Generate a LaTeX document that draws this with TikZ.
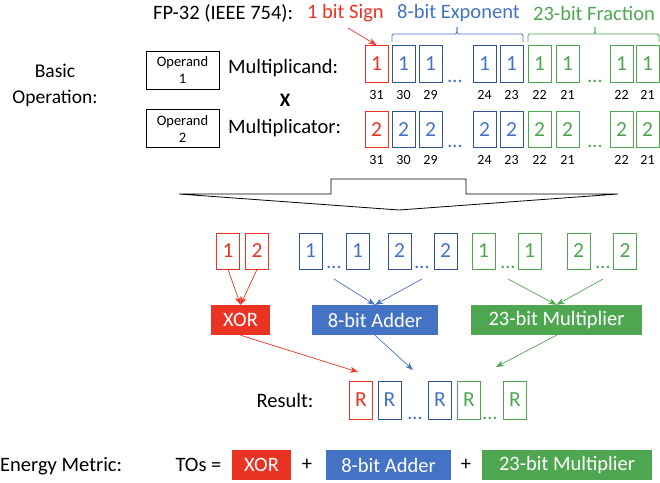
\documentclass[tikz,border=0pt]{standalone}
\usepackage{fontspec}
\setmainfont{Carlito}
\usetikzlibrary{arrows.meta}
\definecolor{cred}{RGB}{234,51,35}
\definecolor{cblue}{RGB}{68,114,196}
\definecolor{cdblue}{RGB}{47,85,151}
\definecolor{cgreen}{RGB}{78,167,80}
\tikzset{
  fs/.style={font=\fontsize{20.5}{24}\selectfont},
  fdig/.style={font=\fontsize{21.5}{24}\selectfont},
  fsmall/.style={font=\fontsize{14}{16}\selectfont},
  bitbox/.style={draw, line width=0.9pt, minimum width=23pt, inner sep=0pt, fdig},
  bitr/.style={bitbox, draw=cred, text=cred},
  bitb/.style={bitbox, draw=cdblue, text=cblue},
  bitg/.style={bitbox, draw=cgreen, text=cgreen},
  dotsn/.style={anchor=base, fs, inner sep=0pt},
  opbox/.style={minimum height=30pt, inner sep=0pt, text=white, fs},
  arr/.style={-{Stealth[length=8pt,width=6pt]}, line width=0.7pt},
  lbl/.style={fs, inner sep=0pt},
  operand/.style={draw, line width=0.9pt, minimum width=73pt, minimum height=38pt, inner sep=0pt, align=center, font=\fontsize{14.5}{17}\selectfont},
}
\begin{document}
\begin{tikzpicture}[x=1pt,y=-1pt]
\useasboundingbox (0,0) rectangle (660,482);
% ---- header
\node[lbl, anchor=west] (fp) at (153,13) {FP-32 (IEEE 754):};
\node[lbl, anchor=west, text=cred] (sign) at (307,13) {1 bit Sign};
\node[lbl, anchor=west, text=cblue] (expo) at (397,13) {8-bit Exponent};
\node[lbl, anchor=west, text=cgreen] (frac) at (533,13) {23-bit Fraction};
% braces
\draw[cblue, line width=0.8pt, rounded corners=1.5pt] (392,42) -- (392,34) -- (457,34) -- (457,27);
\draw[cblue, line width=0.8pt, rounded corners=1.5pt] (457,27) -- (457,34) -- (523,34) -- (523,42);
\draw[cgreen, line width=0.8pt, rounded corners=1.5pt] (528,42) -- (528,34) -- (595,34) -- (595,27);
\draw[cgreen, line width=0.8pt, rounded corners=1.5pt] (595,27) -- (595,34) -- (659,34) -- (659,42);
% left side
\node[inner sep=0pt, align=center, font=\fontsize{19.5}{26}\selectfont] (basic) at (55,85) {Basic\\Operation:};
\node[operand] (op1) at (182.5,70) {Operand\\1};
\node[operand] (op2) at (182.5,128.5) {Operand\\2};
\node[lbl, anchor=west] (mcand) at (228,68) {Multiplicand:};
\node[inner sep=0pt, font=\fontsize{19}{21}\selectfont\bfseries] (times) at (285,100) {X};
\node[lbl, anchor=west] (mcator) at (228,128) {Multiplicator:};
% ---- row 1
\foreach \nm/\x/\st/\v in {a31/376.5/bitr/1, a30/403.5/bitb/1, a29/430.5/bitb/1, a24/484.5/bitb/1, a23/511.5/bitb/1, a22/539.5/bitg/1, a21/567.5/bitg/1, b22/621.5/bitg/1, b21/647.5/bitg/1}{
  \node[\st, minimum height=37pt] (r1\nm) at (\x,64) {\v};
}
\foreach \nm/\x/\st/\v in {a31/376.5/bitr/2, a30/403.5/bitb/2, a29/430.5/bitb/2, a24/484.5/bitb/2, a23/511.5/bitb/2, a22/539.5/bitg/2, a21/567.5/bitg/2, b22/621.5/bitg/2, b21/647.5/bitg/2}{
  \node[\st, minimum height=36pt] (r2\nm) at (\x,129.5) {\v};
}
\foreach \nm/\x/\t in {a31/376.5/31, a30/403.5/30, a29/430.5/29, a24/484.5/24, a23/511.5/23, a22/539.5/22, a21/567.5/21, b22/621.5/22, b21/647.5/21}{
  \node[fsmall, inner sep=0pt] (n1\nm) at (\x,95) {\t};
  \node[fsmall, inner sep=0pt] (n2\nm) at (\x,160) {\t};
}
\node[dotsn, text=cblue] (d1a) at (455,82) {…};
\node[dotsn, text=cgreen] (d1b) at (595,82) {…};
\node[dotsn, text=cblue] (d2a) at (455,147) {…};
\node[dotsn, text=cgreen] (d2b) at (595,147) {…};
\coordinate (sgs) at (348,28);
\draw[arr, cred] (sgs) -- (r1a31.north);
% ---- big arrow
\draw[line width=0.8pt, fill=white] (179,194) -- (331,194) -- (331,179) -- (466,179) -- (466,194) -- (618,194) -- (399,210) -- cycle;
% ---- row 3
\foreach \nm/\x/\st/\v in {s1/228/bitr/1, s2/257/bitr/2, e1/310.5/bitb/1, e2/357.5/bitb/1, e3/399.5/bitb/2, e4/445.5/bitb/2, f1/483.5/bitg/1, f2/529.5/bitg/1, f3/578.5/bitg/2, f4/625/bitg/2}{
  \node[\st, minimum height=36pt] (m\nm) at (\x,251) {\v};
}
\node[dotsn, text=cblue] (md1) at (334,268) {…};
\node[dotsn, text=cblue] (md2) at (422,268) {…};
\node[dotsn, text=cgreen] (md3) at (508,268) {…};
\node[dotsn, text=cgreen] (md4) at (603,268) {…};
\coordinate (ce1) at (334,279);
\coordinate (ce2) at (422,279);
\coordinate (cf1) at (508,279);
\coordinate (cf2) at (603,279);
% ops
\node[opbox, fill=cred, minimum width=59pt] (xor) at (240.5,320) {XOR};
\node[opbox, fill=cblue, minimum width=126pt] (add) at (375,320) {8-bit Adder};
\node[opbox, fill=cgreen, minimum width=171pt] (mul) at (556.5,320) {23-bit Multiplier};
\draw[arr, cred] (ms1.south) -- (xor.north);
\draw[arr, cred] (ms2.south) -- (xor.north);
\draw[arr, cblue] (ce1) -- (add.north);
\draw[arr, cblue] (ce2) -- (add.north);
\draw[arr, cgreen] (cf1) -- (mul.north);
\draw[arr, cgreen] (cf2) -- (mul.north);
% ---- result
\node[lbl] (res) at (285,400) {Result:};
\node[bitr, minimum height=38pt] (R1) at (361,400) {R};
\node[bitb, minimum height=38pt] (R2) at (389.5,400) {R};
\node[bitb, minimum height=38pt] (R3) at (440,400) {R};
\node[bitg, minimum height=38pt] (R4) at (469,400) {R};
\node[bitg, minimum height=38pt] (R5) at (515,400) {R};
\node[dotsn, text=cblue] (rd1) at (415,419) {…};
\node[dotsn, text=cgreen] (rd2) at (490,419) {…};
\coordinate (tr) at (358,372);
\coordinate (tb) at (413,370);
\coordinate (tg) at (496,367);
\draw[arr, cred] (xor.south) -- (tr);
\draw[arr, cblue] (add.south) -- (tb);
\draw[arr, cgreen] (mul.south) -- (tg);
% ---- energy metric
\node[lbl, anchor=west] (em) at (0,466) {Energy Metric:};
\node[lbl] (tos) at (198.5,465) {TOs =};
\node[opbox, fill=cred, minimum width=59pt] (exor) at (261.5,465) {XOR};
\node[lbl] (p1) at (307,465) {+};
\node[opbox, fill=cblue, minimum width=125pt] (eadd) at (388.5,465) {8-bit Adder};
\node[lbl] (p2) at (466,465) {+};
\node[opbox, fill=cgreen, minimum width=170pt] (emul) at (567,465) {23-bit Multiplier};
\end{tikzpicture}
\end{document}
